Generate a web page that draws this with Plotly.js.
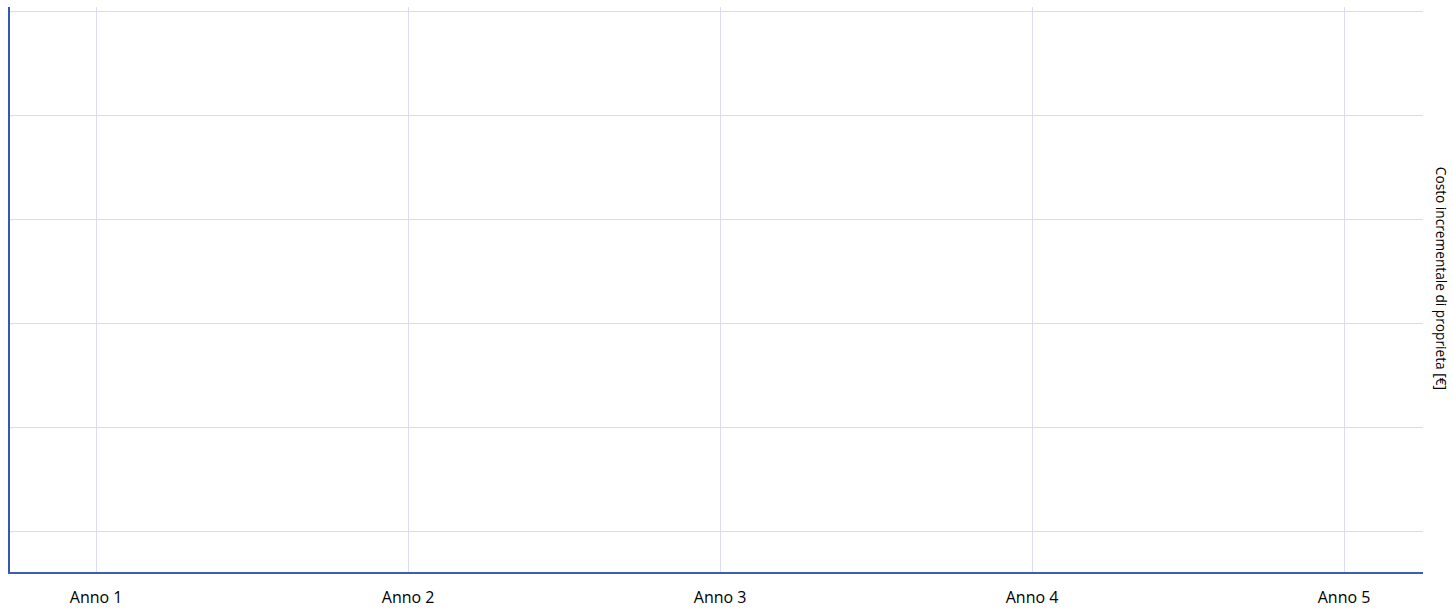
<!DOCTYPE html>
<html>
<head>
<meta charset="utf-8">
<script src="https://cdn.plot.ly/plotly-3.0.1.min.js"></script>
<style>
  html, body { margin: 0; padding: 0; background: #ffffff; }
  #chart { width: 1453px; height: 609px; }
</style>
</head>
<body>
<div id="chart"></div>
<script>
// Categories (x axis)
const years = ["Anno 1", "Anno 2", "Anno 3", "Anno 4", "Anno 5"];
// Series: the reference chart shows no plotted values
const incrementalCost = [null, null, null, null, null];
// Y gridline positions (no tick labels shown)
const yGridValues = [0, 1, 2, 3, 4, 5];
const yAxisTitle = "Costo incrementale di proprieta [€]";

const fontFamily = "'Open Sans', 'Noto Sans', sans-serif";

const traces = [{
  type: "scatter",
  mode: "lines+markers",
  x: years,
  y: incrementalCost,
  showlegend: false,
  hoverinfo: "skip"
}];

const layout = {
  width: 1453,
  height: 609,
  margin: { l: 10, r: 30, t: 7, b: 37, pad: 0 },
  paper_bgcolor: "#ffffff",
  plot_bgcolor: "#ffffff",
  showlegend: false,
  font: { family: fontFamily, size: 16, color: "#000000" },
  xaxis: {
    type: "category",
    categoryorder: "array",
    categoryarray: years,
    range: [-0.276, 4.253],
    showgrid: true,
    gridcolor: "#dcdcf4",
    gridwidth: 1,
    showline: true,
    linecolor: "#3b5fad",
    linewidth: 1.5,
    zeroline: false,
    ticks: "outside",
    ticklen: 10,
    tickcolor: "rgba(0,0,0,0)",
    tickfont: { family: fontFamily, size: 16, color: "#000000" },
    fixedrange: true
  },
  yaxis: {
    range: [-0.395, 5.048],
    tickmode: "array",
    tickvals: yGridValues,
    showticklabels: false,
    showgrid: true,
    gridcolor: "#d3def0",
    gridwidth: 1,
    showline: true,
    linecolor: "#3559b0",
    linewidth: 1.7,
    zeroline: false,
    ticks: "",
    fixedrange: true
  },
  annotations: [{
    text: yAxisTitle,
    xref: "paper",
    yref: "paper",
    x: 1.0127,
    y: 0.519,
    xanchor: "center",
    yanchor: "middle",
    textangle: 90,
    showarrow: false,
    font: { family: fontFamily, size: 13.7, color: "#000000" }
  }]
};

Plotly.newPlot("chart", traces, layout, { displayModeBar: false, staticPlot: true });
</script>
</body>
</html>
